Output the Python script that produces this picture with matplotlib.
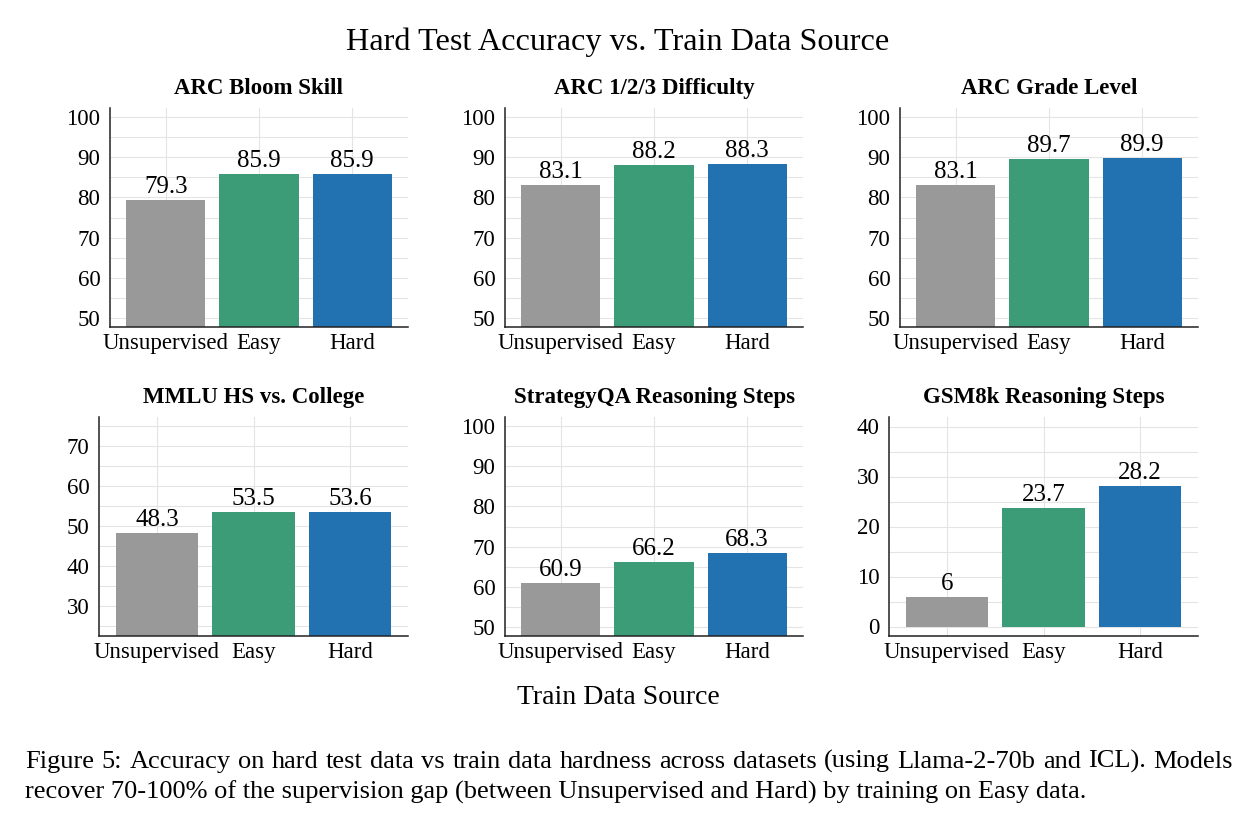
import matplotlib

matplotlib.use("Agg")

import matplotlib.pyplot as plt
from matplotlib.ticker import MultipleLocator


plt.rcParams["font.family"] = ["Liberation Serif", "DejaVu Serif"]

FIG_W, FIG_H = 1252, 826

SOURCES = ["Unsupervised", "Easy", "Hard"]
BAR_COLORS = ["#999999", "#3c9c78", "#2271b1"]

PANEL_TITLES = [
    "ARC Bloom Skill",
    "ARC 1/2/3 Difficulty",
    "ARC Grade Level",
    "MMLU HS vs. College",
    "StrategyQA Reasoning Steps",
    "GSM8k Reasoning Steps",
]
ARC_BLOOM = [79.3, 85.9, 85.9]
ARC_DIFFICULTY = [83.1, 88.2, 88.3]
ARC_GRADE = [83.1, 89.7, 89.9]
MMLU = [48.3, 53.5, 53.6]
STRATEGYQA = [60.9, 66.2, 68.3]
GSM8K = [6, 23.7, 28.2]
PANEL_VALUES = [ARC_BLOOM, ARC_DIFFICULTY, ARC_GRADE, MMLU, STRATEGYQA, GSM8K]
PANEL_YLIMS = [
    (47.7, 102.3),
    (47.7, 102.3),
    (47.7, 102.3),
    (22.5, 77.3),
    (47.7, 102.3),
    (-1.9, 41.9),
]

# axes boxes in pixels: left, right, top, bottom
PANEL_BOXES = [
    (110, 408, 108, 327),
    (505, 803, 108, 327),
    (900, 1198, 108, 327),
    (99, 408, 417, 636),
    (505, 803, 417, 636),
    (889, 1198, 417, 636),
]

CAPTION_LINES = [
    "Figure 5: Accuracy on hard test data vs train data hardness across datasets (using Llama-2-70b and ICL). Models",
    "recover 70-100% of the supervision gap (between Unsupervised and Hard) by training on Easy data.",
]
CAPTION_SIZE = 19


def box_to_rect(box):
    left, right, top, bottom = box
    return [left / FIG_W, 1 - bottom / FIG_H, (right - left) / FIG_W, (bottom - top) / FIG_H]


def draw_panel(axis, title, values, ylim):
    positions = range(len(SOURCES))
    bars = axis.bar(positions, values, width=0.85, color=BAR_COLORS, zorder=2)
    for bar, value in zip(bars, values):
        axis.annotate(
            f"{value:g}",
            (bar.get_x() + bar.get_width() / 2, value),
            xytext=(0, 5),
            textcoords="offset points",
            ha="center",
            va="baseline",
            fontsize=18,
            annotation_clip=False,
        )

    axis.set_xlim(-0.6, 2.6)
    axis.set_ylim(*ylim)
    axis.set_xticks(list(positions))
    axis.set_xticklabels(SOURCES)
    axis.yaxis.set_major_locator(MultipleLocator(10))
    axis.yaxis.set_minor_locator(MultipleLocator(5))
    axis.tick_params(axis="both", which="both", length=0, labelsize=16.5)
    axis.tick_params(axis="x", pad=4.5)
    axis.tick_params(axis="y", pad=7)

    axis.grid(True, which="both", axis="y", color="#e4e4e4", linewidth=0.8, zorder=0)
    axis.grid(True, which="major", axis="x", color="#e4e4e4", linewidth=0.8, zorder=0)
    axis.set_axisbelow(True)

    for side in ["top", "right"]:
        axis.spines[side].set_visible(False)
    for side in ["left", "bottom"]:
        axis.spines[side].set_linewidth(1.1)
        axis.spines[side].set_color("#222222")

    axis.set_title(title, fontsize=16.5, weight="bold", pad=10)


def draw_justified(figure, line, left_px, right_px, baseline_px):
    # spread the words so the line fills the whole width, like the LaTeX caption
    renderer = figure.canvas.get_renderer()
    words = line.split(" ")
    pieces = []
    for word in words:
        piece = figure.text(0, 1 - baseline_px / FIG_H, word, ha="left", va="baseline",
                            fontsize=CAPTION_SIZE)
        pieces.append(piece)
    widths = [piece.get_window_extent(renderer).width for piece in pieces]
    gap = (right_px - left_px - sum(widths)) / (len(words) - 1)
    x = left_px
    for piece, width in zip(pieces, widths):
        piece.set_x(x / FIG_W)
        x += width + gap


def main():
    figure = plt.figure(figsize=(FIG_W / 100, FIG_H / 100), dpi=100)

    for title, values, ylim, box in zip(PANEL_TITLES, PANEL_VALUES, PANEL_YLIMS, PANEL_BOXES):
        axis = figure.add_axes(box_to_rect(box))
        draw_panel(axis, title, values, ylim)

    figure.text(618 / FIG_W, 1 - 42 / FIG_H, "Hard Test Accuracy vs. Train Data Source",
                ha="center", va="center", fontsize=23.2)
    figure.text(618 / FIG_W, 1 - 698 / FIG_H, "Train Data Source",
                ha="center", va="center", fontsize=20)

    draw_justified(figure, CAPTION_LINES[0], 25, 1233, 768)
    figure.text(25 / FIG_W, 1 - 799 / FIG_H, CAPTION_LINES[1],
                ha="left", va="baseline", fontsize=CAPTION_SIZE)

    figure.savefig("out.png", dpi=100)
    plt.close(figure)


if __name__ == "__main__":
    main()
